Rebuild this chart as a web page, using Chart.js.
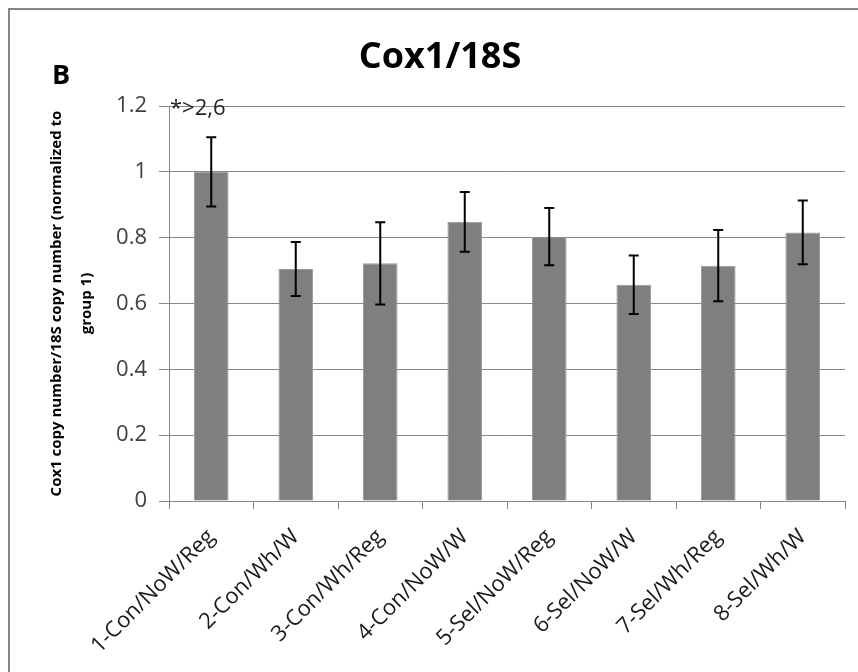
<!DOCTYPE html>
<html>
<head>
<meta charset="utf-8">
<script src="https://cdn.jsdelivr.net/npm/chart.js@4.4.1/dist/chart.umd.min.js"></script>
<style>
  html, body { margin: 0; padding: 0; background: #fff; }
  #wrap { width: 858px; height: 672px; }
</style>
</head>
<body>
<div id="wrap"><canvas id="chart" width="858" height="672"></canvas></div>
<script>
// data
const groups = ['1-Con/NoW/Reg', '2-Con/Wh/W', '3-Con/Wh/Reg', '4-Con/NoW/W',
                '5-Sel/NoW/Reg', '6-Sel/NoW/W', '7-Sel/Wh/Reg', '8-Sel/Wh/W'];
const ratio  = [1.0, 0.705, 0.722, 0.848, 0.803, 0.657, 0.715, 0.816];
const errBar = [0.105, 0.082, 0.125, 0.091, 0.087, 0.089, 0.108, 0.097];
const yTicks = [0, 0.2, 0.4, 0.6, 0.8, 1, 1.2];
const note = '*>2,6';

const FONT = '"Open Sans", "DejaVu Sans", sans-serif';
const GRID = '#868686';

// error bars + frame + labels
const extras = {
  id: 'extras',
  beforeDraw(chart){
    const c = chart.ctx;
    c.save();
    c.strokeStyle = GRID; c.lineWidth = 2;
    c.beginPath();
    c.moveTo(9, 672); c.lineTo(9, 9); c.lineTo(858, 9);
    c.stroke();
    c.restore();
  },
  afterDatasetsDraw(chart){
    const c = chart.ctx;
    const y = chart.scales.y;
    const meta = chart.getDatasetMeta(0);
    c.save();
    c.strokeStyle = '#000'; c.lineWidth = 2;
    meta.data.forEach((bar, i) => {
      const top = y.getPixelForValue(ratio[i] + errBar[i]);
      const bot = y.getPixelForValue(ratio[i] - errBar[i]);
      c.beginPath();
      c.moveTo(bar.x, top); c.lineTo(bar.x, bot);
      c.moveTo(bar.x - 5, top); c.lineTo(bar.x + 5, top);
      c.moveTo(bar.x - 5, bot); c.lineTo(bar.x + 5, bot);
      c.stroke();
    });
    // annotation above first bar
    c.fillStyle = '#262626';
    c.font = '22px ' + FONT;
    c.textAlign = 'left'; c.textBaseline = 'alphabetic';
    c.fillText(note, chart.chartArea.left + 1, y.getPixelForValue(1.2) + 9);
    // titles
    c.fillStyle = '#000';
    c.font = 'bold 36px ' + FONT;
    c.textAlign = 'center';
    c.fillText('Cox1/18S', 440, 68);
    c.font = 'bold 27px ' + FONT;
    c.textAlign = 'left';
    c.fillText('B', 52, 84);
    c.restore();
  }
};

new Chart(document.getElementById('chart'), {
  type: 'bar',
  data: {
    labels: groups,
    datasets: [{
      data: ratio,
      backgroundColor: '#7f7f7f',
      borderColor: '#9a9a9a',
      borderWidth: 1,
      barPercentage: 0.41,
      categoryPercentage: 1
    }]
  },
  options: {
    responsive: false,
    animation: false,
    layout: { padding: { top: 106, right: 13, bottom: 0, left: 0 } },
    plugins: { legend: { display: false }, tooltip: { enabled: false }, title: { display: false } },
    scales: {
      x: {
        grid: { drawOnChartArea: false, drawTicks: true, tickLength: 8, color: GRID, offset: true },
        border: { color: GRID, width: 1 },
        ticks: { color: '#1a1a1a', font: { family: FONT, size: 22 }, minRotation: 45, maxRotation: 45, padding: 15 },
        afterFit(s){ s.height = 171; }
      },
      y: {
        min: 0, max: 1.2,
        afterBuildTicks(s){ s.ticks = yTicks.map(v => ({ value: v })); },
        grid: { color: GRID, tickLength: 10 },
        border: { color: GRID, width: 1 },
        ticks: { color: '#404040', font: { family: FONT, size: 22 }, padding: 12,
                 callback: v => String(v) },
        title: {
          display: true,
          text: ['Cox1 copy number/18S copy number (normalized to', 'group 1)'],
          color: '#000',
          font: { family: FONT, size: 15, weight: 'bold', lineHeight: 2 },
          padding: { top: 42, bottom: 0 }
        },
        afterFit(s){ s.width = 169; }
      }
    }
  },
  plugins: [extras]
});
</script>
</body>
</html>
